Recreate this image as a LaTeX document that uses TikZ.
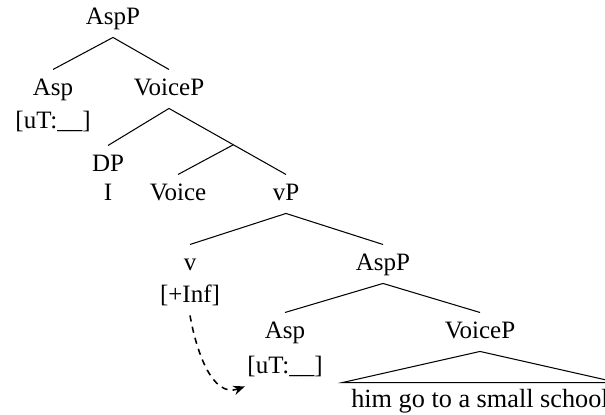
\documentclass[tikz,border=0pt]{standalone}
\usepackage{fontspec}
\setmainfont{Liberation Serif}
\usetikzlibrary{arrows.meta,calc}

\begin{document}
\begin{tikzpicture}[x=0.48pt,y=0.48pt,line width=0.5pt,
    font=\fontsize{12}{14}\selectfont,
    lbl/.style={anchor=base,inner xsep=1pt,inner ysep=4pt,text height=8pt,
      text depth=2.2pt},
    roof/.style={anchor=base,inner xsep=0pt,inner ysep=3.5pt,text height=8pt,
      text depth=2.2pt,minimum width=131.5pt,font=\fontsize{12.6}{15}\selectfont},
    >={Stealth[length=5.5pt,width=4.5pt]}]
  \useasboundingbox (0,0) rectangle (605,414);
  % top
  \node[lbl] (AspP1) at (113,390) {AspP};
  \node[lbl] (Asp1) at (53,319) {Asp};
  \node[lbl] (AspF1) at (53,286) {[uT:\_\_]};
  \node[lbl] (VoiceP1) at (169,319) {VoiceP};
  % VoiceP
  \node[lbl] (DP) at (108,243) {DP};
  \node[lbl] (Pron) at (108,214) {I};
  \node[lbl] (Voice) at (178,214) {Voice};
  \node[lbl] (vP) at (286,214) {vP};
  % vP
  \node[lbl] (v) at (190,144) {v};
  \node[lbl] (InfF) at (190,112) {[+Inf]};
  \node[lbl] (AspP2) at (383,144) {AspP};
  % lower AspP
  \node[lbl] (Asp2) at (285,76) {Asp};
  \node[lbl] (AspF2) at (285,41) {[uT:\_\_]};
  \node[lbl] (VoiceP2) at (480,76) {VoiceP};
  \node[roof] (Roof) at (480,7) {him go to a small school};

  \draw (AspP1.south) -- (Asp1.north);
  \draw (AspP1.south) -- (VoiceP1.north);
  \draw (VoiceP1.south) -- (DP.north);
  \draw (VoiceP1.south) -- (vP.north);
  \coordinate (Vbar) at ($(VoiceP1.south)!0.55!(vP.north)$);
  \draw (Vbar) -- (Voice.north);
  \draw (vP.south) -- (v.north);
  \draw (vP.south) -- (AspP2.north);
  \draw (AspP2.south) -- (Asp2.north);
  \draw (AspP2.south) -- (VoiceP2.north);
  \draw (VoiceP2.south) -- (Roof.north west) -- (Roof.north east) -- cycle;
  % feature movement
  \draw[->,dash pattern=on 3pt off 2.5pt,line width=0.75pt] (InfF.south)
    to[out=-80,in=200] (AspF2.south west);
\end{tikzpicture}
\end{document}
